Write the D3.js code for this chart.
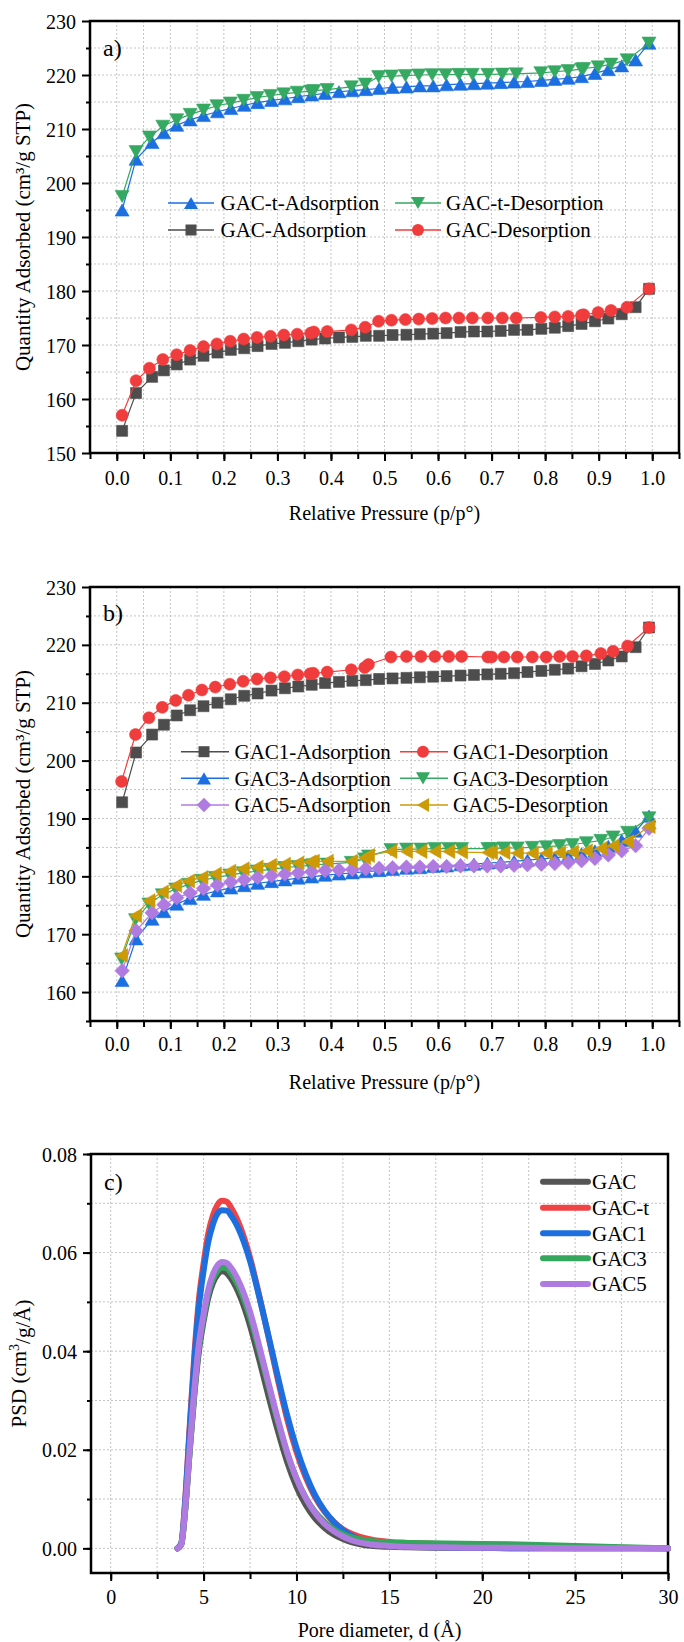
<!DOCTYPE html>
<html><head><meta charset="utf-8">
<script src="https://cdn.jsdelivr.net/npm/d3@7"></script>
<style>
body{margin:0;background:#fff;}
svg text{font-family:"Liberation Serif","Times New Roman",serif;fill:#000;}
</style></head><body>
<svg id="chart" width="684" height="1642" font-family="Liberation Serif, serif"></svg>
<script>
// ---------------- DATA ----------------
const isoXTicks = [0.0,0.1,0.2,0.3,0.4,0.5,0.6,0.7,0.8,0.9,1.0];
const aYTicks = [150,160,170,180,190,200,210,220,230];
const bYTicks = [160,170,180,190,200,210,220,230];
const cXTicks = [0,5,10,15,20,25,30];
const cYTicks = [0,0.02,0.04,0.06,0.08];

// relative pressure of adsorption points
const pAds = [0.010,0.036,0.066,0.088,0.112,0.137,0.162,0.188,0.213,0.238,
  0.263,0.289,0.314,0.339,0.364,0.389,0.415,0.440,0.465,0.490,
  0.515,0.541,0.566,0.591,0.616,0.642,0.667,0.692,0.717,0.742,
  0.767,0.793,0.818,0.843,0.868,0.893,0.918,0.943,0.969,0.994];
// relative pressure of desorption points (panel a)
const pDesA = [0.010,0.036,0.061,0.086,0.112,0.137,0.162,0.187,0.212,0.237,
  0.262,0.287,0.312,0.337,0.362,0.368,0.393,0.438,0.464,0.489,
  0.513,0.539,0.564,0.589,0.614,0.639,0.664,0.693,0.720,0.746,
  0.792,0.818,0.843,0.868,0.872,0.899,0.923,0.953,0.994];
// relative pressure of desorption points (panel b)
const pDesB = [0.009,0.035,0.060,0.085,0.110,0.134,0.159,0.184,0.211,0.236,
  0.262,0.287,0.313,0.338,0.361,0.367,0.393,0.438,0.463,0.470,
  0.512,0.541,0.568,0.594,0.620,0.644,0.693,0.700,0.723,0.748,
  0.776,0.802,0.827,0.851,0.877,0.904,0.927,0.954,0.994];

// panel a
const gacTAds = [195.0,204.4,207.5,209.3,210.7,211.7,212.5,213.2,213.8,214.4,
  214.9,215.3,215.6,216.0,216.3,216.6,216.9,217.1,217.3,217.5,
  217.7,217.8,218.0,218.0,218.2,218.3,218.4,218.5,218.6,218.7,
  218.8,219.0,219.2,219.4,219.7,220.3,221.0,221.7,222.8,225.9];
const gacTDes = [197.5,205.8,208.5,210.5,211.7,212.7,213.5,214.3,214.8,215.3,
  215.8,216.2,216.5,216.8,217.0,217.1,217.3,217.8,218.3,219.7,
  219.8,219.9,220.0,220.05,220.05,220.1,220.1,220.1,220.15,220.2,
  220.4,220.6,220.8,221.1,221.2,221.5,222.0,222.8,225.9];
const gacAds = [154.1,161.1,164.1,165.3,166.4,167.3,168.0,168.6,169.1,169.4,
  169.8,170.2,170.4,170.7,171.0,171.2,171.4,171.5,171.7,171.7,
  171.85,171.9,172.0,172.1,172.2,172.4,172.5,172.5,172.6,172.8,
  172.8,173.0,173.2,173.5,173.9,174.4,174.9,175.7,177.0,180.4];
const gacDes = [157.0,163.4,165.7,167.3,168.2,169.0,169.7,170.2,170.7,171.1,
  171.4,171.6,171.85,172.0,172.2,172.4,172.5,172.8,173.3,174.4,
  174.6,174.7,174.8,174.9,175.0,175.0,175.0,175.0,175.0,175.0,
  175.1,175.2,175.3,175.5,175.6,176.0,176.4,177.0,180.4];

// panel b
const gac1Ads = [192.8,201.4,204.5,206.2,207.8,208.7,209.4,210.0,210.6,211.2,
  211.6,212.1,212.5,212.8,213.1,213.4,213.6,213.8,213.9,214.1,
  214.2,214.3,214.4,214.5,214.6,214.7,214.8,214.9,215.0,215.1,
  215.3,215.5,215.7,215.9,216.3,216.7,217.3,218.0,219.6,223.0];
const gac1Des = [196.4,204.5,207.4,209.2,210.4,211.3,212.2,212.7,213.2,213.7,
  214.1,214.3,214.5,214.8,215.0,215.1,215.3,215.7,216.1,216.6,
  217.9,218.0,218.0,218.0,218.0,218.0,217.9,217.9,217.9,217.9,
  217.9,217.9,218.0,218.0,218.1,218.5,218.9,219.8,223.0];
const gac3Ads = [162.0,169.2,172.6,173.9,175.2,176.2,176.9,177.5,178.0,178.4,
  178.8,179.1,179.4,179.7,179.9,180.2,180.4,180.6,180.8,181.0,
  181.2,181.4,181.5,181.7,181.8,182.0,182.1,182.3,182.4,182.6,
  182.8,183.0,183.2,183.5,183.9,184.4,185.2,186.2,187.8,190.4];
const gac3Des = [165.7,172.5,175.2,176.8,177.8,178.6,179.3,179.8,180.2,180.6,
  180.9,181.2,181.5,181.7,181.9,182.0,182.1,182.4,183.0,183.5,
  184.6,184.7,184.7,184.8,184.8,184.8,184.8,184.8,184.9,184.9,
  185.0,185.1,185.3,185.5,185.8,186.2,186.8,187.6,190.1];
const gac5Ads = [163.7,170.6,173.7,175.1,176.3,177.1,177.9,178.5,179.0,179.4,
  179.8,180.1,180.4,180.6,180.8,181.0,181.1,181.2,181.3,181.4,
  181.5,181.6,181.6,181.7,181.7,181.8,181.8,181.8,181.8,181.9,
  182.0,182.1,182.2,182.4,182.7,183.1,183.7,184.4,185.3,188.3];
const gac5Des = [166.3,173.2,175.8,177.3,178.4,179.2,179.8,180.4,180.9,181.3,
  181.6,181.9,182.1,182.3,182.5,182.6,182.6,182.6,183.2,183.6,
  184.3,184.3,184.3,184.3,184.3,184.2,184.1,184.1,184.1,184.0,
  184.0,184.0,184.1,184.2,184.4,184.8,185.3,186.0,188.6];

// panel c  (pore diameter in Å, PSD in cm3/g/Å)
const poreD = [3.6,3.8,4.0,4.25,4.5,4.75,5.0,5.25,5.5,5.75,6.0,6.25,6.5,7.0,7.5,8.0,8.5,9.0,9.5,10,
  10.5,11,11.5,12,12.5,13,14,15,16,18,20,22,25,27.5,30];
const psdGAC = [0,0.0008,0.0073,0.0195,0.031,0.040,0.046,0.0508,0.0538,0.0555,0.0562,0.0558,0.0546,0.0508,0.0452,0.0382,0.0308,0.0238,0.0175,0.0125,
  0.0088,0.0061,0.0042,0.0028,0.0019,0.0012,0.0005,0.0003,0.0002,0.0001,0.0001,0,0,0,0];
const psdGACt = [0,0.0010,0.0092,0.0245,0.039,0.0505,0.0578,0.0638,0.0675,0.0697,0.0705,0.0703,0.0690,0.0650,0.0590,0.0512,0.0428,0.0342,0.0262,0.0196,
  0.0144,0.0104,0.0075,0.0054,0.0039,0.0029,0.0018,0.0013,0.0011,0.0009,0.0007,0.0005,0.0003,0.0001,0];
const psdGAC1 = [0,0.0010,0.0089,0.0238,0.0379,0.0491,0.0563,0.0621,0.0657,0.0679,0.0686,0.0685,0.0674,0.0638,0.0583,0.0510,0.0430,0.0348,0.0270,0.0204,
  0.0150,0.0108,0.0077,0.0054,0.0037,0.0025,0.0012,0.0006,0.0004,0.0002,0.0001,0,0,0,0];
const psdGAC3 = [0,0.0008,0.0074,0.0197,0.0315,0.0408,0.0467,0.0516,0.0546,0.0563,0.0570,0.0568,0.0557,0.0522,0.0470,0.0402,0.0330,0.0258,0.0193,0.0142,
  0.0103,0.0074,0.0054,0.0039,0.0029,0.0022,0.0015,0.0012,0.0011,0.0010,0.0009,0.0008,0.0005,0.0002,0];
const psdGAC5 = [0,0.0008,0.0075,0.020,0.032,0.0415,0.0475,0.0525,0.0556,0.0574,0.0581,0.0579,0.0568,0.0533,0.0480,0.0410,0.0335,0.0262,0.0195,0.0142,
  0.0102,0.0072,0.0050,0.0035,0.0024,0.0016,0.0008,0.0005,0.0003,0.0002,0.0001,0.0001,0,0,0];

// ---------------- STYLE ----------------
const COL = {gray:"#4d4d4d", red:"#f03c3c", blue:"#1c6fe0", green:"#35a862", purple:"#b07be0", gold:"#cc9a06"};
const SERIF = '"Liberation Serif","Times New Roman",serif';
const TICKFONT = 20, TITLEFONT = 20, LEGFONT = 21, LETTERFONT = 24;

const svg = d3.select("#chart");

function markerPath(type, s){
  const h = s*0.87, r = s/2;
  switch(type){
    case "square": return `M${-r},${-r}h${s}v${s}h${-s}Z`;
    case "circle": return `M${-r},0a${r},${r} 0 1,0 ${2*r},0a${r},${r} 0 1,0 ${-2*r},0Z`;
    case "triUp": return `M0,${-h/2}L${r},${h/2}L${-r},${h/2}Z`;
    case "triDown": return `M0,${h/2}L${r},${-h/2}L${-r},${-h/2}Z`;
    case "triLeft": return `M${-h/2},0L${h/2},${-r}L${h/2},${r}Z`;
    case "diamond": return `M0,${-r}L${r},0L0,${r}L${-r},0Z`;
  }
}
const MSIZE = {square:11, circle:12, triUp:14, triDown:14, triLeft:14, diamond:14.5};

function range(a,b,step){const out=[];for(let v=a;v<=b+1e-9;v+=step)out.push(+v.toFixed(6));return out;}

function drawPanel(cfg){
  const g = svg.append("g");
  const x = d3.scaleLinear().domain(cfg.xDomain).range([cfg.L,cfg.R]);
  const y = d3.scaleLinear().domain(cfg.yDomain).range([cfg.B,cfg.T]);
  // grid
  const grid = g.append("g").attr("stroke","#c4c4c4").attr("stroke-width",1).attr("stroke-dasharray","2,2");
  cfg.xGrid.forEach(v=>grid.append("line").attr("x1",x(v)).attr("x2",x(v)).attr("y1",cfg.T).attr("y2",cfg.B));
  cfg.yGrid.forEach(v=>grid.append("line").attr("x1",cfg.L).attr("x2",cfg.R).attr("y1",y(v)).attr("y2",y(v)));
  // minor ticks
  const xMinorAxis = d3.axisBottom(x).tickValues(cfg.xMinor).tickSize(6).tickFormat("");
  const yMinorAxis = d3.axisLeft(y).tickValues(cfg.yMinor).tickSize(4).tickFormat("");
  g.append("g").attr("transform",`translate(0,${cfg.B})`).call(xMinorAxis);
  g.append("g").attr("transform",`translate(${cfg.L},0)`).call(yMinorAxis);
  // major
  const xAxis = d3.axisBottom(x).tickValues(cfg.xMajor).tickSize(8).tickFormat(cfg.xFmt);
  const yAxis = d3.axisLeft(y).tickValues(cfg.yMajor).tickSize(8).tickFormat(cfg.yFmt);
  const gx = g.append("g").attr("transform",`translate(0,${cfg.B})`).call(xAxis);
  const gy = g.append("g").attr("transform",`translate(${cfg.L},0)`).call(yAxis);
  g.selectAll("g").attr("font-family",SERIF);
  g.selectAll(".tick line").attr("stroke","#000").attr("stroke-width",2);
  g.selectAll(".domain").remove();
  [gx,gy].forEach(a=>a.selectAll("text").attr("font-size",TICKFONT).style("font-family",SERIF).attr("fill","#000"));
  gx.selectAll("text").attr("y",cfg.xLabelOff).attr("dy","0.35em");
  gy.selectAll("text").attr("x",-14).attr("dy","0.35em");
  // frame
  g.append("rect").attr("x",cfg.L).attr("y",cfg.T).attr("width",cfg.R-cfg.L).attr("height",cfg.B-cfg.T)
    .attr("fill","none").attr("stroke","#000").attr("stroke-width",2.5);
  // titles
  g.append("text").attr("x",(cfg.L+cfg.R)/2).attr("y",cfg.B+cfg.xTitleOff).attr("dy","0.35em")
    .attr("text-anchor","middle").attr("font-size",TITLEFONT).style("font-family",SERIF).text(cfg.xTitle);
  const yt = g.append("text").attr("transform",`translate(${cfg.yTitleX},${(cfg.T+cfg.B)/2}) rotate(-90)`)
    .attr("dy","0.35em").attr("text-anchor","middle").attr("font-size",TITLEFONT+1).style("font-family",SERIF);
  cfg.yTitle(yt);
  g.append("text").attr("x",cfg.L+13).attr("y",cfg.letterY).attr("dy","0.35em")
    .attr("font-size",LETTERFONT).style("font-family",SERIF).text(cfg.letter);
  const plot = g.append("g");
  return {x,y,plot,g};
}

function drawSeries(p, xs, ys, color, type){
  const line = d3.line().x((d,i)=>p.x(xs[i])).y(d=>p.y(d));
  p.plot.append("path").datum(ys).attr("d",line).attr("fill","none").attr("stroke",color).attr("stroke-width",1.2);
  p.plot.selectAll(null).data(ys).enter().append("path")
    .attr("d",markerPath(type,MSIZE[type]))
    .attr("transform",(d,i)=>`translate(${p.x(xs[i])},${p.y(d)})`)
    .attr("fill",color).attr("stroke",color).attr("stroke-width",0.6);
}

function legendItem(g, x1, x2, xm, xt, yy, color, type, label){
  g.append("line").attr("x1",x1).attr("x2",x2).attr("y1",yy).attr("y2",yy).attr("stroke",color).attr("stroke-width",1.5);
  g.append("path").attr("d",markerPath(type,MSIZE[type])).attr("transform",`translate(${xm},${yy})`).attr("fill",color);
  g.append("text").attr("x",xt).attr("y",yy).attr("dy","0.35em").attr("font-size",LEGFONT).style("font-family",SERIF).text(label);
}

const isoCommon = {
  L:90, R:679, xDomain:[-0.05,1.05],
  xGrid: range(0,1.0,0.05), xMajor: isoXTicks, xMinor: range(-0.05,1.05,0.05),
  xFmt: d3.format(".1f"), yFmt: d3.format("d"),
  xTitle: "Relative Pressure (p/p\u00B0)",
  yTitle: t=>t.text("Quantity Adsorbed (cm\u00B3/g STP)")
};

// ---------- Panel a ----------
const pa = drawPanel(Object.assign({}, isoCommon, {
  T:21, B:453, yDomain:[150,230], yGrid: range(155,225,5), yMajor: aYTicks, yMinor: range(155,225,10),
  xLabelOff:25, xTitleOff:60, yTitleX:23, letter:"a)", letterY:48
}));
drawSeries(pa, pAds, gacTAds, COL.blue, "triUp");
drawSeries(pa, pDesA, gacTDes, COL.green, "triDown");
drawSeries(pa, pAds, gacAds, COL.gray, "square");
drawSeries(pa, pDesA, gacDes, COL.red, "circle");
legendItem(pa.g,168,214,191,220.5,203,COL.blue,"triUp","GAC-t-Adsorption");
legendItem(pa.g,395,441,418,446,203,COL.green,"triDown","GAC-t-Desorption");
legendItem(pa.g,168,214,191,220.5,230,COL.gray,"square","GAC-Adsorption");
legendItem(pa.g,395,441,418,446,230,COL.red,"circle","GAC-Desorption");

// ---------- Panel b ----------
const pb = drawPanel(Object.assign({}, isoCommon, {
  T:587, B:1021, yDomain:[155,230], yGrid: range(160,225,5), yMajor: bYTicks, yMinor: range(155,225,10),
  xLabelOff:23, xTitleOff:61, yTitleX:23, letter:"b)", letterY:613
}));
drawSeries(pb, pAds, gac1Ads, COL.gray, "square");
drawSeries(pb, pDesB, gac1Des, COL.red, "circle");
drawSeries(pb, pAds, gac3Ads, COL.blue, "triUp");
drawSeries(pb, pDesB, gac3Des, COL.green, "triDown");
drawSeries(pb, pAds, gac5Ads, COL.purple, "diamond");
drawSeries(pb, pDesB, gac5Des, COL.gold, "triLeft");
legendItem(pb.g,181,229,204,234.5,751.7,COL.gray,"square","GAC1-Adsorption");
legendItem(pb.g,400,448,423,453,751.7,COL.red,"circle","GAC1-Desorption");
legendItem(pb.g,181,229,204,234.5,778.3,COL.blue,"triUp","GAC3-Adsorption");
legendItem(pb.g,400,448,423,453,778.3,COL.green,"triDown","GAC3-Desorption");
legendItem(pb.g,181,229,204,234.5,805,COL.purple,"diamond","GAC5-Adsorption");
legendItem(pb.g,400,448,423,453,805,COL.gold,"triLeft","GAC5-Desorption");

// ---------- Panel c ----------
const pc = drawPanel({
  L:91, R:668, T:1154, B:1573, xDomain:[-1.06,30], yDomain:[-0.005,0.08],
  xGrid: range(0,27.5,2.5), yGrid: range(0,0.07,0.01),
  xMajor: cXTicks, xMinor: range(0,30,2.5), yMajor: cYTicks, yMinor: range(0,0.08,0.01),
  xFmt: d3.format("d"), yFmt: d3.format(".2f"),
  xLabelOff:24, xTitleOff:57, yTitleX:19, letter:"c)", letterY:1182,
  xTitle: "Pore diameter, d (\u00C5)",
  yTitle: t=>{ t.append("tspan").text("PSD (cm");
    t.append("tspan").attr("font-size",14).attr("dy","-0.55em").text("3");
    t.append("tspan").attr("dy","0.55em").text("/g/\u00C5)"); }
});
const psdLine = d3.line().x((d,i)=>pc.x(poreD[i])).y(d=>pc.y(d)).curve(d3.curveMonotoneX);
const psdSeries = [
  {name:"GAC", v:psdGAC, c:"#555555"},
  {name:"GAC-t", v:psdGACt, c:"#f04343"},
  {name:"GAC1", v:psdGAC1, c:"#1d6fe0"},
  {name:"GAC3", v:psdGAC3, c:"#34a65e"},
  {name:"GAC5", v:psdGAC5, c:"#b07be0"}
];
psdSeries.forEach(s=>{
  pc.plot.append("path").datum(s.v).attr("d",psdLine).attr("fill","none")
    .attr("stroke",s.c).attr("stroke-width",6).attr("stroke-linecap","round").attr("stroke-linejoin","round");
});
const cLegY = [1181.7,1207.7,1233.3,1258.3,1284];
psdSeries.forEach((s,i)=>{
  pc.g.append("line").attr("x1",543).attr("x2",588).attr("y1",cLegY[i]).attr("y2",cLegY[i])
    .attr("stroke",s.c).attr("stroke-width",6).attr("stroke-linecap","round");
  pc.g.append("text").attr("x",592).attr("y",cLegY[i]).attr("dy","0.35em").attr("font-size",LEGFONT).style("font-family",SERIF).text(s.name);
});
</script>
</body></html>
